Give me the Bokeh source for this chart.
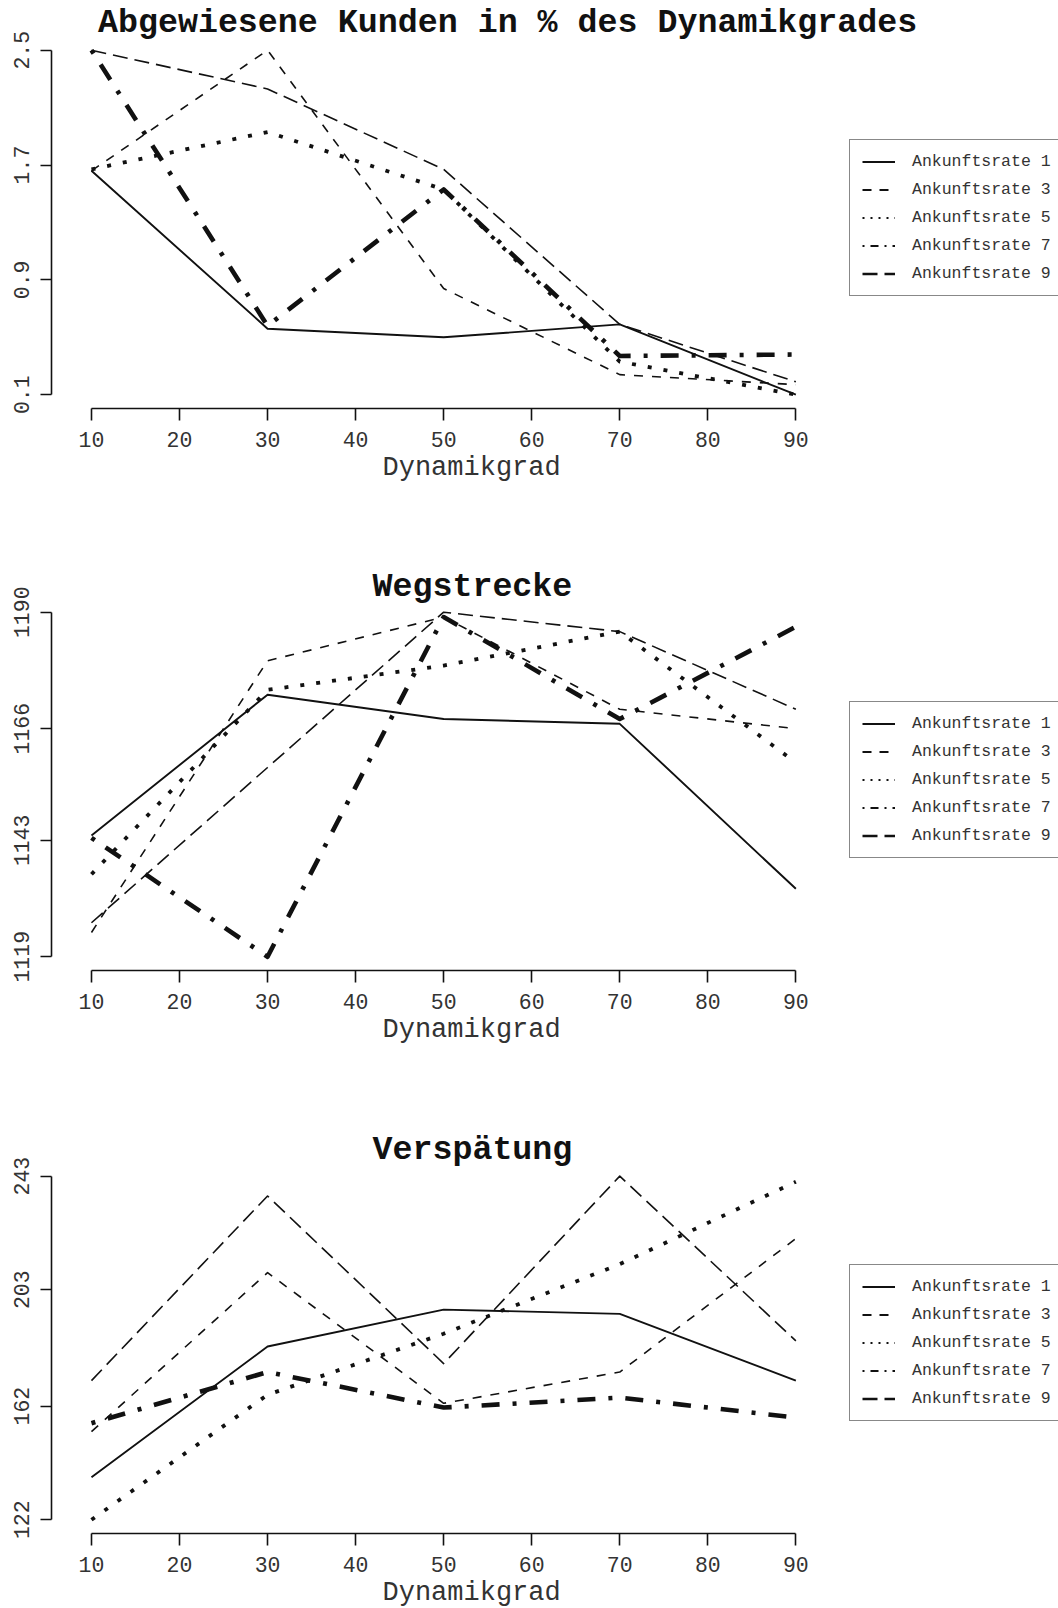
from bokeh.plotting import figure
from bokeh.layouts import column
from bokeh.models import Range1d, FixedTicker, Legend, LegendItem, Title, Label
from bokeh.embed import file_html
from bokeh.resources import INLINE

# ---------------- data ----------------
dynamikgrad = [10, 30, 50, 70, 90]
x_ticks = [10, 20, 30, 40, 50, 60, 70, 80, 90]
series_names = ["Ankunftsrate 1", "Ankunftsrate 3", "Ankunftsrate 5",
                "Ankunftsrate 7", "Ankunftsrate 9"]

# Abgewiesene Kunden in % des Dynamikgrades
abgew_r1 = [1.66, 0.56, 0.50, 0.59, 0.10]
abgew_r3 = [1.66, 2.50, 0.84, 0.24, 0.17]
abgew_r5 = [1.67, 1.93, 1.53, 0.33, 0.10]
abgew_r7 = [2.50, 0.58, 1.53, 0.37, 0.38]
abgew_r9 = [2.50, 2.23, 1.67, 0.59, 0.19]
abgew_ticks = [0.1, 0.9, 1.7, 2.5]

# Wegstrecke
weg_r1 = [1144, 1173, 1168, 1167, 1133]
weg_r3 = [1124, 1180, 1189, 1170, 1166]
weg_r5 = [1136, 1174, 1179, 1186, 1159]
weg_r7 = [1143.5, 1119, 1189, 1168, 1187]
weg_r9 = [1126, 1158, 1190, 1186, 1170]
weg_ticks = [1119, 1143, 1166, 1190]

# Verspätung
versp_r1 = [137, 183, 196, 194.5, 171]
versp_r3 = [153, 209, 163, 174, 221]
versp_r5 = [122, 166, 187.5, 212, 241]
versp_r7 = [156, 174, 161.5, 165, 158]
versp_r9 = [171, 236, 177, 243, 185]
versp_ticks = [122, 162, 203, 243]

# ---------------- styles ----------------
FONT = "Liberation Mono"
INK = "#111111"
TXT = "#333333"
NAN = float("nan")
line_styles = [
    dict(line_width=1.9, line_dash="solid"),
    dict(line_width=1.6, line_dash="9 9"),
    dict(line_width=3.8, line_dash="4 12"),
    dict(line_width=4.6, line_dash="4 13 18 13"),
    dict(line_width=1.6, line_dash="15 7"),
]
legend_styles = [
    dict(line_width=2.0, line_dash="solid"),
    dict(line_width=2.0, line_dash="9 8"),
    dict(line_width=2.0, line_dash="2 6"),
    dict(line_width=2.0, line_dash="2 6 8 6"),
    dict(line_width=2.6, line_dash="15 7"),
]

FRAME_H = 408      # frame reaches from the figure top to the x axis line
TICK_SPAN = 344.5  # pixels between lowest and highest y tick


def make_panel(title, series, yticks, height, title_x, title_y):
    ymin, ymax = min(yticks), max(yticks)
    r = ymax - ymin
    start = ymin - 0.04 * r
    end = start + FRAME_H * r / TICK_SPAN
    p = figure(width=1058, height=height,
               x_range=Range1d(5.46, 119.83),
               y_range=Range1d(start, end),
               output_backend="svg", toolbar_location=None,
               min_border_left=51, min_border_right=0,
               min_border_top=0, min_border_bottom=height - FRAME_H)
    p.outline_line_color = None
    p.background_fill_color = "white"
    p.border_fill_color = "white"
    p.xgrid.visible = False
    p.ygrid.visible = False

    p.add_layout(Label(x=title_x, y=FRAME_H - title_y,
                       x_units="screen", y_units="screen", text=title,
                       text_font=FONT, text_font_style="bold",
                       text_font_size="33.3px", text_color=INK,
                       text_align="left", text_baseline="middle"))

    xa = p.xaxis[0]
    xa.ticker = FixedTicker(ticks=x_ticks)
    xa.bounds = (min(x_ticks), max(x_ticks))
    xa.axis_line_width = 1.6
    xa.axis_line_color = INK
    xa.major_tick_line_width = 1.6
    xa.major_tick_line_color = INK
    xa.major_tick_out = 12
    xa.major_tick_in = 0
    xa.minor_tick_line_color = None
    xa.major_label_text_font = FONT
    xa.major_label_text_font_size = "21.5px"
    xa.major_label_text_color = TXT
    xa.major_label_standoff = 11

    p.add_layout(Title(text="Dynamikgrad", text_font=FONT,
                       text_font_style="normal", text_font_size="27px",
                       text_color=TXT, align="left", offset=331, standoff=2),
                 "below")

    ya = p.yaxis[0]
    ya.ticker = FixedTicker(ticks=yticks)
    ya.bounds = (ymin, ymax)
    ya.axis_line_width = 1.6
    ya.axis_line_color = INK
    ya.major_tick_line_width = 1.6
    ya.major_tick_line_color = INK
    ya.major_tick_out = 11
    ya.major_tick_in = 0
    ya.minor_tick_line_color = None
    ya.major_label_text_font = FONT
    ya.major_label_text_font_size = "21.5px"
    ya.major_label_text_color = TXT
    ya.major_label_orientation = "vertical"
    ya.major_label_standoff = 11

    items = []
    for name, ys, st, lst in zip(series_names, series, line_styles, legend_styles):
        p.line(dynamikgrad, ys, line_color=INK, line_join="round", **st)
        lr = p.line(x=[NAN], y=[NAN], line_color=INK, **lst)
        items.append(LegendItem(label=name, renderers=[lr]))

    legend = Legend(items=items, location=(798, 112),
                    border_line_color=INK, border_line_width=1.5,
                    background_fill_color="white", background_fill_alpha=1.0,
                    label_text_font=FONT, label_text_font_size="16.5px",
                    label_text_color=TXT,
                    glyph_width=33, glyph_height=19, label_height=19,
                    label_standoff=17, padding=12, spacing=9,
                    label_width=200, margin=0)
    p.add_layout(legend)
    return p


p1 = make_panel("Abgewiesene Kunden in % des Dynamikgrades",
                [abgew_r1, abgew_r3, abgew_r5, abgew_r7, abgew_r9],
                abgew_ticks, 562, 46.5, 22.5)
p2 = make_panel("Wegstrecke",
                [weg_r1, weg_r3, weg_r5, weg_r7, weg_r9],
                weg_ticks, 564, 321, 24.2)
p3 = make_panel("Verspätung",
                [versp_r1, versp_r3, versp_r5, versp_r7, versp_r9],
                versp_ticks, 482, 321, 24)

layout = column(p1, p2, p3, spacing=0)
open("out.html", "w").write(file_html(layout, INLINE))
